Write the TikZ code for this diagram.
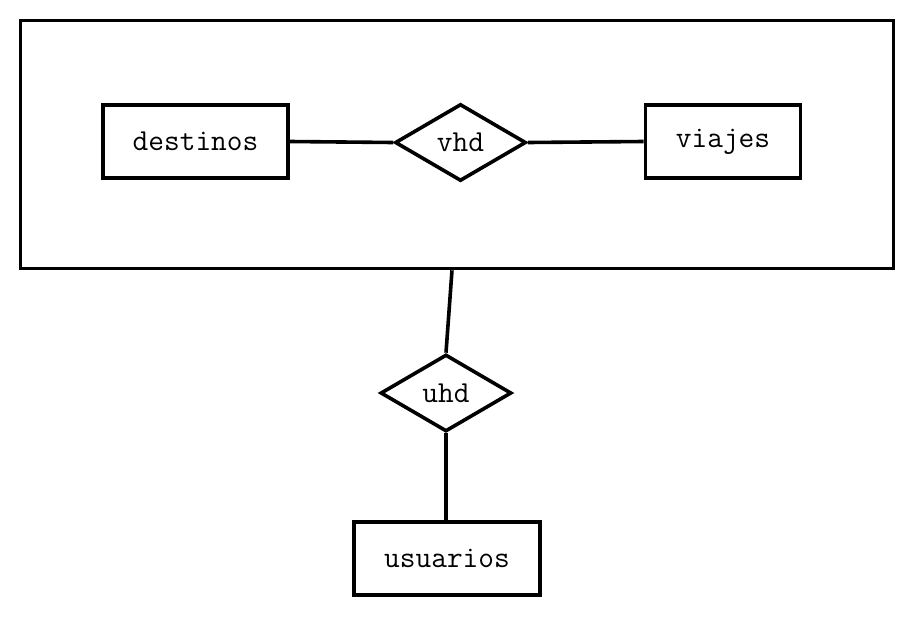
\documentclass[tikz,border=0pt]{standalone}
\usetikzlibrary{positioning, shapes.geometric}

\begin{document}
\begin{tikzpicture}[
  x=1pt, y=-1pt, line width=3.6pt,
  every node/.style={font=\fontsize{30.5}{34}\selectfont\ttfamily},
  entidad/.style={draw, rectangle, minimum height=73.5pt, inner sep=0pt},
  relacion/.style={draw, diamond, minimum width=131pt, minimum height=77pt, inner sep=0pt},
]
\useasboundingbox (0,0) rectangle (917,616);
\node[draw, minimum width=873pt, minimum height=248pt] (agregado) at (457,144.5) {};
\node[entidad, minimum width=185.5pt] (destinos) at (195.5,141.5) {destinos};
\node[relacion] (vhd) at (460.5,142.5) {vhd};
\node[entidad, minimum width=155pt] (viajes) at (723,141.5) {viajes};
\node[relacion] (uhd) at (446,393) {uhd};
\node[entidad, minimum width=185.5pt] (usuarios) at (447,558.5) {usuarios};

\draw (destinos.east) -- (vhd.west);
\draw (vhd.east) -- (viajes.west);
\draw ([xshift=-5pt]agregado.south) -- (uhd.north);
\draw (uhd.south) -- (uhd.south |- usuarios.north);
\end{tikzpicture}
\end{document}
